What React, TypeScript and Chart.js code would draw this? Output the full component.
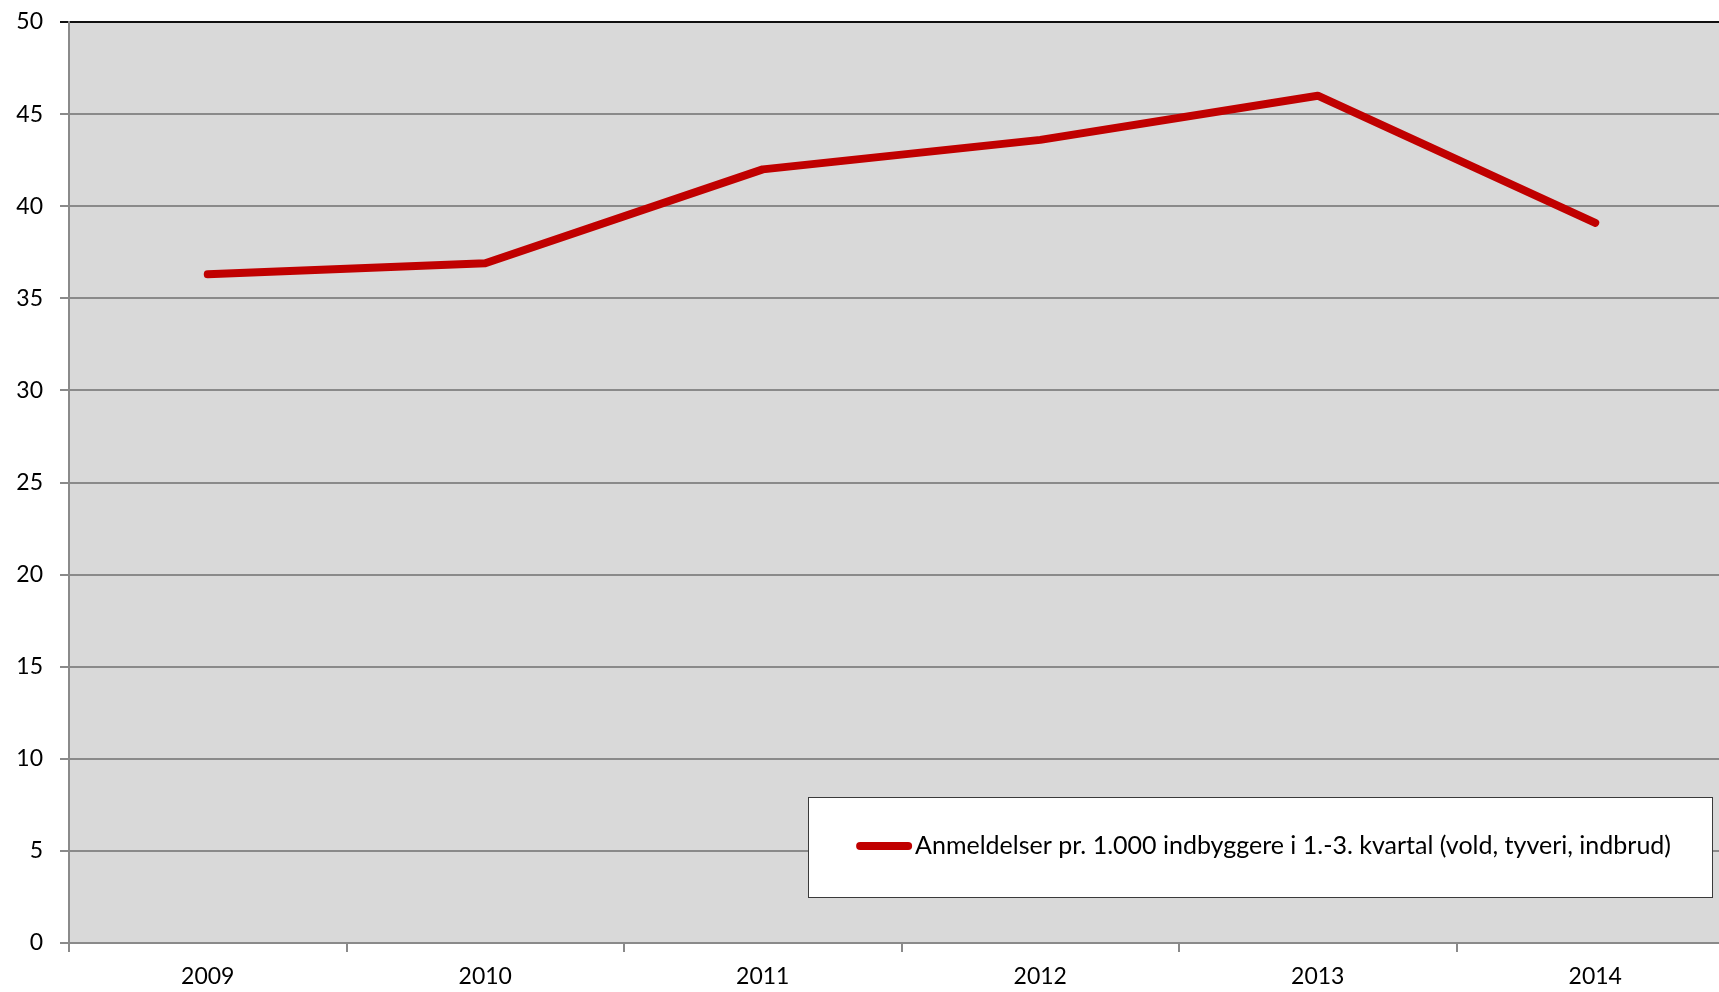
import React, { useEffect, useRef } from "react";
import { Chart, registerables } from "chart.js";

Chart.register(...registerables);

const categories = ["2009", "2010", "2011", "2012", "2013", "2014"];
const seriesLabel = "Anmeldelser pr. 1.000 indbyggere i 1.-3. kvartal (vold, tyveri, indbrud)";
const seriesValues = [36.3, 36.9, 42.0, 43.6, 46.0, 39.1];
const yMin = 0;
const yMax = 50;
const yStep = 5;

const FONT = "Lato";
const GRID = "#8a8a8a";

const plotBg = {
  id: "plotBg",
  beforeDraw(chart: any) {
    const { ctx, chartArea } = chart;
    ctx.save();
    ctx.fillStyle = "#d9d9d9";
    ctx.fillRect(chartArea.left, chartArea.top, chartArea.right - chartArea.left, chartArea.bottom - chartArea.top);
    ctx.restore();
  },
};

const insideLegend = {
  id: "insideLegend",
  afterDraw(chart: any) {
    const { ctx, chartArea } = chart;
    const ds = chart.data.datasets[0];
    ctx.save();
    ctx.font = `25px ${FONT}`;
    const tw = ctx.measureText(ds.label).width;
    const padL = 49, lineLen = 54, gap = 4, padR = 41;
    const w = padL + lineLen + gap + tw + padR;
    const h = 100;
    const right = chartArea.right - 22;
    const bottom = chartArea.bottom - 46;
    const left = right - w;
    const top = bottom - h;
    ctx.fillStyle = "#ffffff";
    ctx.fillRect(left, top, w, h);
    ctx.strokeStyle = "#3a3a3a";
    ctx.lineWidth = 1;
    ctx.strokeRect(Math.round(left) + 0.5, Math.round(top) + 0.5, Math.round(w), Math.round(h));
    const cy = top + h / 2 - 1;
    ctx.strokeStyle = ds.borderColor;
    ctx.lineWidth = 8;
    ctx.lineCap = "round";
    ctx.beginPath();
    ctx.moveTo(left + padL + 3, cy);
    ctx.lineTo(left + padL + lineLen - 3, cy);
    ctx.stroke();
    ctx.fillStyle = "#000000";
    ctx.textAlign = "left";
    ctx.textBaseline = "middle";
    ctx.fillText(ds.label, left + padL + lineLen + gap, cy);
    ctx.restore();
  },
};

export default function App() {
  const ref = useRef<HTMLCanvasElement>(null);
  useEffect(() => {
    if (!ref.current) return;
    const chart = new Chart(ref.current, {
      type: "line",
      data: {
        labels: categories,
        datasets: [
          {
            label: seriesLabel,
            data: seriesValues,
            borderColor: "#c00000",
            backgroundColor: "#c00000",
            borderWidth: 8,
            borderCapStyle: "round",
            borderJoinStyle: "round",
            pointRadius: 0,
            tension: 0,
            fill: false,
          },
        ],
      },
      options: {
        animation: false,
        responsive: true,
        maintainAspectRatio: false,
        layout: { padding: { top: 22, left: 0, right: 0, bottom: 0 } },
        plugins: { legend: { display: false }, tooltip: { enabled: false } },
        scales: {
          x: {
            type: "category",
            offset: true,
            grid: {
              offset: true,
              drawOnChartArea: false,
              drawTicks: true,
              tickLength: 9,
              color: GRID,
              lineWidth: 2,
            },
            border: { display: true, color: GRID, width: 2 },
            ticks: { color: "#000", font: { family: FONT, size: 23 }, padding: 11, maxRotation: 0 },
            afterFit(scale: any) {
              scale.height = 49;
              scale.paddingLeft = 0;
              scale.paddingRight = 0;
            },
          },
          y: {
            min: yMin,
            max: yMax,
            ticks: { stepSize: yStep, color: "#000", font: { family: FONT, size: 23 }, padding: 17 },
            grid: {
              drawTicks: true,
              tickLength: 9,
              lineWidth: 2,
              color: (c: any) => (c.tick && c.tick.value === yMax ? "#111111" : GRID),
            },
            border: { display: true, color: GRID, width: 2 },
            afterFit(scale: any) {
              scale.width = 69;
              scale.paddingTop = 0;
              scale.paddingBottom = 0;
            },
          },
        },
      },
      plugins: [plotBg, insideLegend],
    });
    return () => chart.destroy();
  }, []);
  return (
    <div style={{ position: "absolute", left: 0, top: 0, width: 1719, height: 992, overflow: "hidden", background: "#fff" }}>
      <div style={{ position: "relative", width: 1734, height: 992 }}>
        <canvas ref={ref} />
      </div>
    </div>
  );
}
